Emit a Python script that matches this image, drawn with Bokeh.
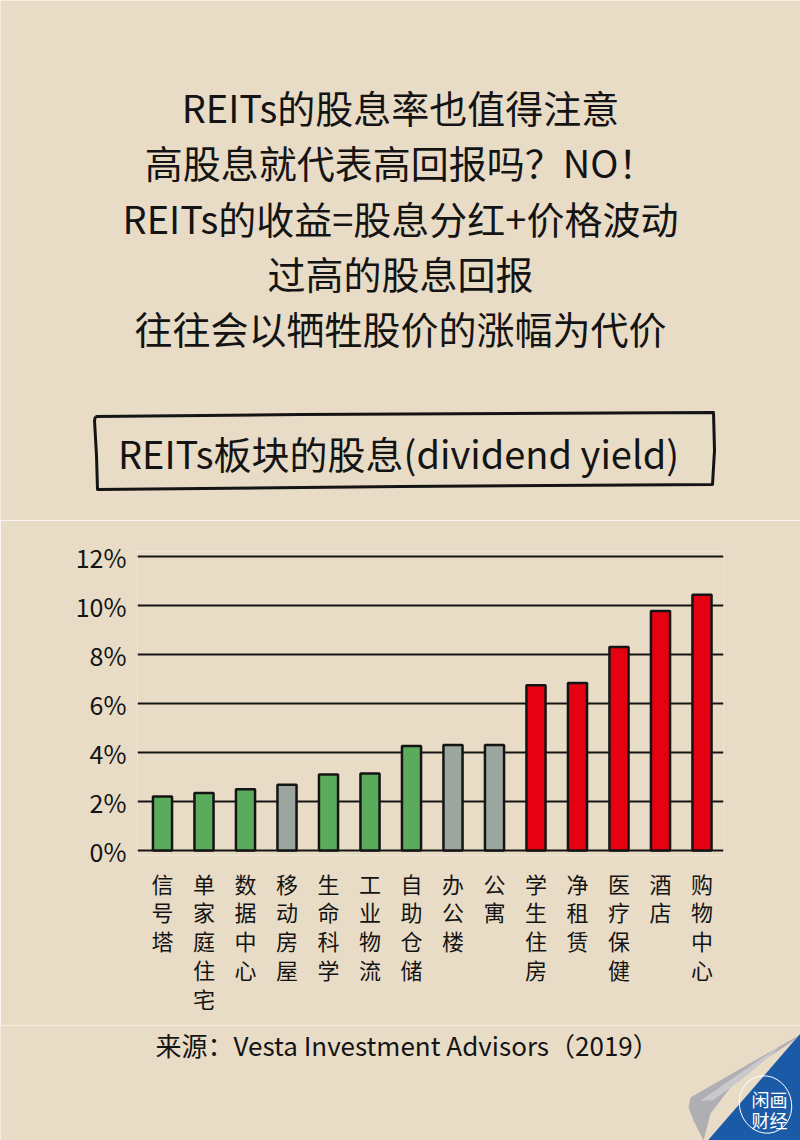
from bokeh.plotting import figure
from bokeh.layouts import column, row
from bokeh.models import Range1d, FixedTicker, ColumnDataSource
from bokeh.core.properties import value
from bokeh.embed import file_html
from bokeh.resources import INLINE

# ---- data ----
categories = ["信号塔", "单家庭住宅", "数据中心", "移动房屋", "生命科学", "工业物流", "自助仓储",
              "办公楼", "公寓", "学生住房", "净租赁", "医疗保健", "酒店", "购物中心"]
yields = [2.2, 2.35, 2.5, 2.68, 3.1, 3.14, 4.27, 4.31, 4.31, 6.75, 6.84, 8.31, 9.78, 10.44]
groups = ["low", "low", "low", "neutral", "low", "low", "low",
          "neutral", "neutral", "high", "high", "high", "high", "high"]
y_ticks = [0, 2, 4, 6, 8, 10, 12]
y_tick_labels = ["0%", "2%", "4%", "6%", "8%", "10%", "12%"]

title_lines = ["REITs的股息率也值得注意", "高股息就代表高回报吗？NO！", "REITs的收益=股息分红+价格波动",
               "过高的股息回报", "往往会以牺牲股价的涨幅为代价"]
chart_title = "REITs板块的股息(dividend yield)"
source_text = "来源：Vesta Investment Advisors（2019）"
logo_lines = ["闲画", "财经"]

# ---- style ----
BG = "#e9dcc6"
COLORS = {"low": "#5aab5b", "neutral": "#9ba69f", "high": "#e50012"}
FONT = "Noto Sans CJK SC"
INK = "#141414"
W = 800
TOP_H, CHART_H, BOT_H = 520, 505, 115


def blank(height, y_top):
    f = figure(width=W, height=height, x_range=Range1d(0, W), y_range=Range1d(y_top + height, y_top),
               min_border=0, output_backend="svg", toolbar_location=None,
               background_fill_color=BG, border_fill_color=BG, outline_line_color=None)
    f.axis.visible = False
    f.grid.visible = False
    return f


# ---- top: headline text and boxed chart title ----
top = blank(TOP_H, 0)
top.text(x=[400] * len(title_lines), y=[106 + 55.3 * i for i in range(len(title_lines))],
         text=title_lines, text_align="center", text_baseline="middle",
         text_font=value(FONT), text_font_size="38px", text_color=INK)
top.line(x=[95, 300, 713, 714, 712, 400, 97, 96, 94, 95],
         y=[416, 414, 412, 450, 484, 486, 489, 455, 420, 416],
         line_color=INK, line_width=3, line_join="round")
top.text(x=[398], y=[452], text=[chart_title], text_align="center", text_baseline="middle",
         text_font=value(FONT), text_font_size="38px", text_color=INK)

# ---- chart ----
STEP_X = 41.5
FRAME_L, FRAME_R = 137, 723
FRAME_T, FRAME_B = 551 - TOP_H, 855 - TOP_H
X0 = -(162 - FRAME_L) / STEP_X
X1 = X0 + (FRAME_R - FRAME_L) / STEP_X
STEP_Y = 24.5
Y0 = -5 / STEP_Y
Y1 = 12 + 5 / STEP_Y

p = figure(width=W, height=CHART_H, x_range=Range1d(X0, X1), y_range=Range1d(Y0, Y1),
           min_border_left=FRAME_L, min_border_right=W - FRAME_R,
           min_border_top=FRAME_T, min_border_bottom=CHART_H - FRAME_B,
           output_backend="svg", toolbar_location=None,
           background_fill_color=BG, border_fill_color=BG, outline_line_color=None)

src = ColumnDataSource(dict(x=list(range(len(categories))), top=yields,
                            color=[COLORS[g] for g in groups]))
p.vbar(x="x", top="top", bottom=0, width=0.46, source=src, fill_color="color",
       line_color=INK, line_width=2.5)

p.yaxis.ticker = FixedTicker(ticks=y_ticks)
p.yaxis.major_label_overrides = {t: l for t, l in zip(y_ticks, y_tick_labels)}
p.ygrid.ticker = FixedTicker(ticks=y_ticks)
p.ygrid.grid_line_color = INK
p.ygrid.grid_line_width = 2
p.xgrid.grid_line_color = None
p.yaxis.axis_line_color = None
p.yaxis.major_tick_line_color = None
p.yaxis.minor_tick_line_color = None
p.yaxis.major_label_text_font = FONT
p.yaxis.major_label_text_font_size = "25px"
p.yaxis.major_label_text_color = INK
p.yaxis.major_label_standoff = 5

p.xaxis.ticker = FixedTicker(ticks=list(range(len(categories))))
p.xaxis.major_label_overrides = {i: "\n".join(c) for i, c in enumerate(categories)}
p.xaxis.axis_line_color = None
p.xaxis.major_tick_line_color = None
p.xaxis.minor_tick_line_color = None
p.xaxis.major_label_text_font = FONT
p.xaxis.major_label_text_font_size = "22px"
p.xaxis.major_label_text_color = INK
p.xaxis.major_label_text_line_height = 0.9
p.xaxis.major_label_standoff = 5
p.xaxis.major_label_orientation = "horizontal"

# ---- bottom: source and corner logo ----
bot = blank(BOT_H, TOP_H + CHART_H)
bot.text(x=[155], y=[1044], text=[source_text], text_align="left", text_baseline="middle",
         text_font=value(FONT), text_font_size="26px", text_color=INK)
bot.patch(x=[800, 800, 703], y=[1033, 1145, 1145], fill_color="#1b5aa6", line_color=None)
bot.patch(x=[798, 690, 688, 693, 703, 710, 730, 763, 793],
          y=[1035, 1097, 1107, 1120, 1140, 1113, 1087, 1060, 1040],
          fill_color="#aeaeb3", line_color=None)
bot.patch(x=[780, 700, 712, 740, 770],
          y=[1045, 1100, 1100, 1080, 1055],
          fill_color="#c9c9cd", line_color=None)
bot.ellipse(x=[765], y=[1104], width=52, height=58, angle=0.3, fill_color=None,
            line_color="white", line_width=1)
bot.text(x=[769, 769], y=[1098, 1119], text=logo_lines, text_align="center", text_baseline="middle",
         text_font=value(FONT), text_font_size="18px", text_color="white")

layout = column(row(top), row(p), row(bot), spacing=0)
html = file_html(layout, INLINE, title="REITs")
html = html.replace("<body>", '<body style="background:%s">' % BG, 1)
open("out.html", "w").write(html)
